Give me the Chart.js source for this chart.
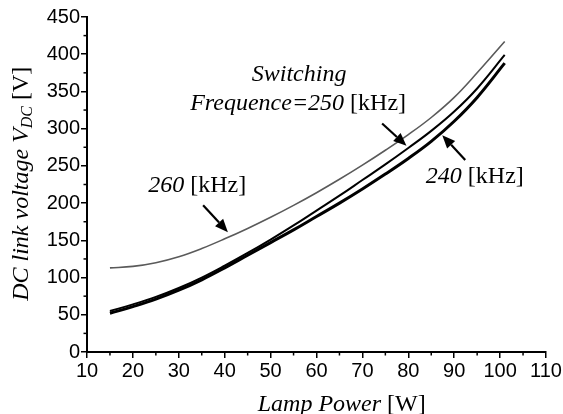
<!DOCTYPE html>
<html>
<head>
<meta charset="utf-8">
<script src="https://cdn.jsdelivr.net/npm/chart.js@4"></script>
<style>
  html, body { margin: 0; padding: 0; background: #fff; }
  #wrap { width: 563px; height: 414px; }
</style>
</head>
<body>
<div id="wrap"><canvas id="chart"></canvas></div>
<script>
// values: lamp power [W] vs DC link voltage [V]
const lampPower = [15, 20, 25, 30, 35, 40, 45, 50, 55, 60, 65, 70, 75, 80, 85, 90, 95, 101];
const vdc260 = [113, 115, 120, 128, 139, 152, 166, 181, 197, 214, 232, 251, 271, 292, 315, 342, 375, 417];
const vdc250 = [55, 64, 74, 86, 100, 116, 133, 151, 170, 190, 210, 231, 252, 274, 297, 323, 354, 399];
const vdc240 = [52, 61, 71, 83, 97, 113, 130, 147, 164, 182, 200, 219, 239, 260, 283, 310, 342, 388];

const xTicks = [10, 20, 30, 40, 50, 60, 70, 80, 90, 100, 110];
const yTicks = [0, 50, 100, 150, 200, 250, 300, 350, 400, 450];

const serif = '"Liberation Serif", "Times New Roman", serif';
const sans = '"Liberation Sans", Arial, sans-serif';

function toPoints(ys) {
    return lampPower.map((x, i) => ({ x: x, y: ys[i] }));
}

// labels and arrows, placed in data units
const labels = [
    { x: 56.2, y: 373, runs: [["Switching", "italic"]] },
    { x: 56.0, y: 333, runs: [["Frequence=250 ", "italic"], ["[kHz]", "normal"]] },
    { x: 34.0, y: 224, runs: [["260 ", "italic"], ["[kHz]", "normal"]] },
    { x: 94.5, y: 235, runs: [["240 ", "italic"], ["[kHz]", "normal"]] }
];
const arrows = [
    { from: [35.3, 197], to: [40.7, 161] },
    { from: [74.3, 307], to: [79.6, 277] },
    { from: [92.4, 258], to: [87.4, 291] }
];

function drawRuns(ctx, runs, cx, cy, size) {
    let total = 0;
    runs.forEach(r => {
        ctx.font = r[1] + " " + size + "px " + serif;
        total += ctx.measureText(r[0]).width;
    });
    let x = cx - total / 2;
    ctx.textBaseline = "middle";
    ctx.textAlign = "left";
    runs.forEach(r => {
        ctx.font = r[1] + " " + size + "px " + serif;
        ctx.fillText(r[0], x, cy);
        x += ctx.measureText(r[0]).width;
    });
}

const extras = {
    id: "extras",
    afterDraw(chart) {
        const ctx = chart.ctx;
        const xs = chart.scales.x, ys = chart.scales.y;
        const area = chart.chartArea;
        ctx.save();
        ctx.fillStyle = "#000";
        ctx.strokeStyle = "#000";

        // minor ticks
        ctx.lineWidth = 1.5;
        for (let v = 15; v < 110; v += 10) {
            const px = xs.getPixelForValue(v);
            ctx.beginPath();
            ctx.moveTo(px, area.bottom);
            ctx.lineTo(px, area.bottom + 3.5);
            ctx.stroke();
        }
        for (let v = 25; v < 450; v += 50) {
            const py = ys.getPixelForValue(v);
            ctx.beginPath();
            ctx.moveTo(area.left, py);
            ctx.lineTo(area.left - 3.5, py);
            ctx.stroke();
        }

        // text labels
        labels.forEach(l => {
            drawRuns(ctx, l.runs, xs.getPixelForValue(l.x), ys.getPixelForValue(l.y), 24);
        });

        // arrows
        arrows.forEach(a => {
            const x0 = xs.getPixelForValue(a.from[0]), y0 = ys.getPixelForValue(a.from[1]);
            const x1 = xs.getPixelForValue(a.to[0]), y1 = ys.getPixelForValue(a.to[1]);
            const ang = Math.atan2(y1 - y0, x1 - x0);
            const head = 13, half = 5.5;
            const bx = x1 - head * Math.cos(ang), by = y1 - head * Math.sin(ang);
            ctx.lineWidth = 2.2;
            ctx.beginPath();
            ctx.moveTo(x0, y0);
            ctx.lineTo(bx, by);
            ctx.stroke();
            ctx.beginPath();
            ctx.moveTo(x1, y1);
            ctx.lineTo(bx + half * Math.sin(ang), by - half * Math.cos(ang));
            ctx.lineTo(bx - half * Math.sin(ang), by + half * Math.cos(ang));
            ctx.closePath();
            ctx.fill();
        });

        // x axis title
        drawRuns(ctx, [["Lamp Power ", "italic"], ["[W]", "normal"]],
            xs.getPixelForValue(65.5), 405, 24);

        // y axis title, rotated, with subscript
        ctx.translate(22, ys.getPixelForValue(226));
        ctx.rotate(-Math.PI / 2);
        const parts = [
            ["DC link voltage ", "italic", 24, 0],
            ["V", "italic", 24, 0],
            ["DC", "italic", 16, 6],
            [" [V]", "normal", 24, 0]
        ];
        let total = 0;
        parts.forEach(p => {
            ctx.font = p[1] + " " + p[2] + "px " + serif;
            total += ctx.measureText(p[0]).width;
        });
        let x = -total / 2;
        ctx.textBaseline = "middle";
        ctx.textAlign = "left";
        parts.forEach(p => {
            ctx.font = p[1] + " " + p[2] + "px " + serif;
            ctx.fillText(p[0], x, p[3]);
            x += ctx.measureText(p[0]).width;
        });
        ctx.restore();
    }
};

new Chart(document.getElementById("chart"), {
    type: "line",
    data: {
        datasets: [
            {
                label: "260 kHz",
                data: toPoints(vdc260),
                borderColor: "#5a5a5a",
                borderWidth: 1.6,
                pointRadius: 0,
                tension: 0.4
            },
            {
                label: "250 kHz",
                data: toPoints(vdc250),
                borderColor: "#000",
                borderWidth: 2,
                pointRadius: 0,
                tension: 0.4
            },
            {
                label: "240 kHz",
                data: toPoints(vdc240),
                borderColor: "#000",
                borderWidth: 3,
                pointRadius: 0,
                tension: 0.4
            }
        ]
    },
    options: {
        responsive: true,
        maintainAspectRatio: false,
        animation: false,
        layout: { padding: { top: 17, right: 17, left: 0, bottom: 0 } },
        plugins: {
            legend: { display: false },
            tooltip: { enabled: false }
        },
        scales: {
            x: {
                type: "linear",
                min: 10,
                max: 110,
                afterBuildTicks: s => { s.ticks = xTicks.map(v => ({ value: v })); },
                afterFit: s => { s.height = 62; s.paddingLeft = 0; s.paddingRight = 0; },
                ticks: { color: "#000", font: { family: sans, size: 20 }, padding: 1, maxRotation: 0 },
                grid: { drawOnChartArea: false, color: "#000", lineWidth: 1.5, tickLength: 6 },
                border: { color: "#000", width: 2 }
            },
            y: {
                min: 0,
                max: 450,
                afterBuildTicks: s => { s.ticks = yTicks.map(v => ({ value: v })); },
                afterFit: s => { s.width = 87; s.paddingTop = 0; s.paddingBottom = 0; },
                ticks: { color: "#000", font: { family: sans, size: 20 }, padding: 1 },
                grid: { drawOnChartArea: false, color: "#000", lineWidth: 1.5, tickLength: 6 },
                border: { color: "#000", width: 2 }
            }
        }
    },
    plugins: [extras]
});
</script>
</body>
</html>
